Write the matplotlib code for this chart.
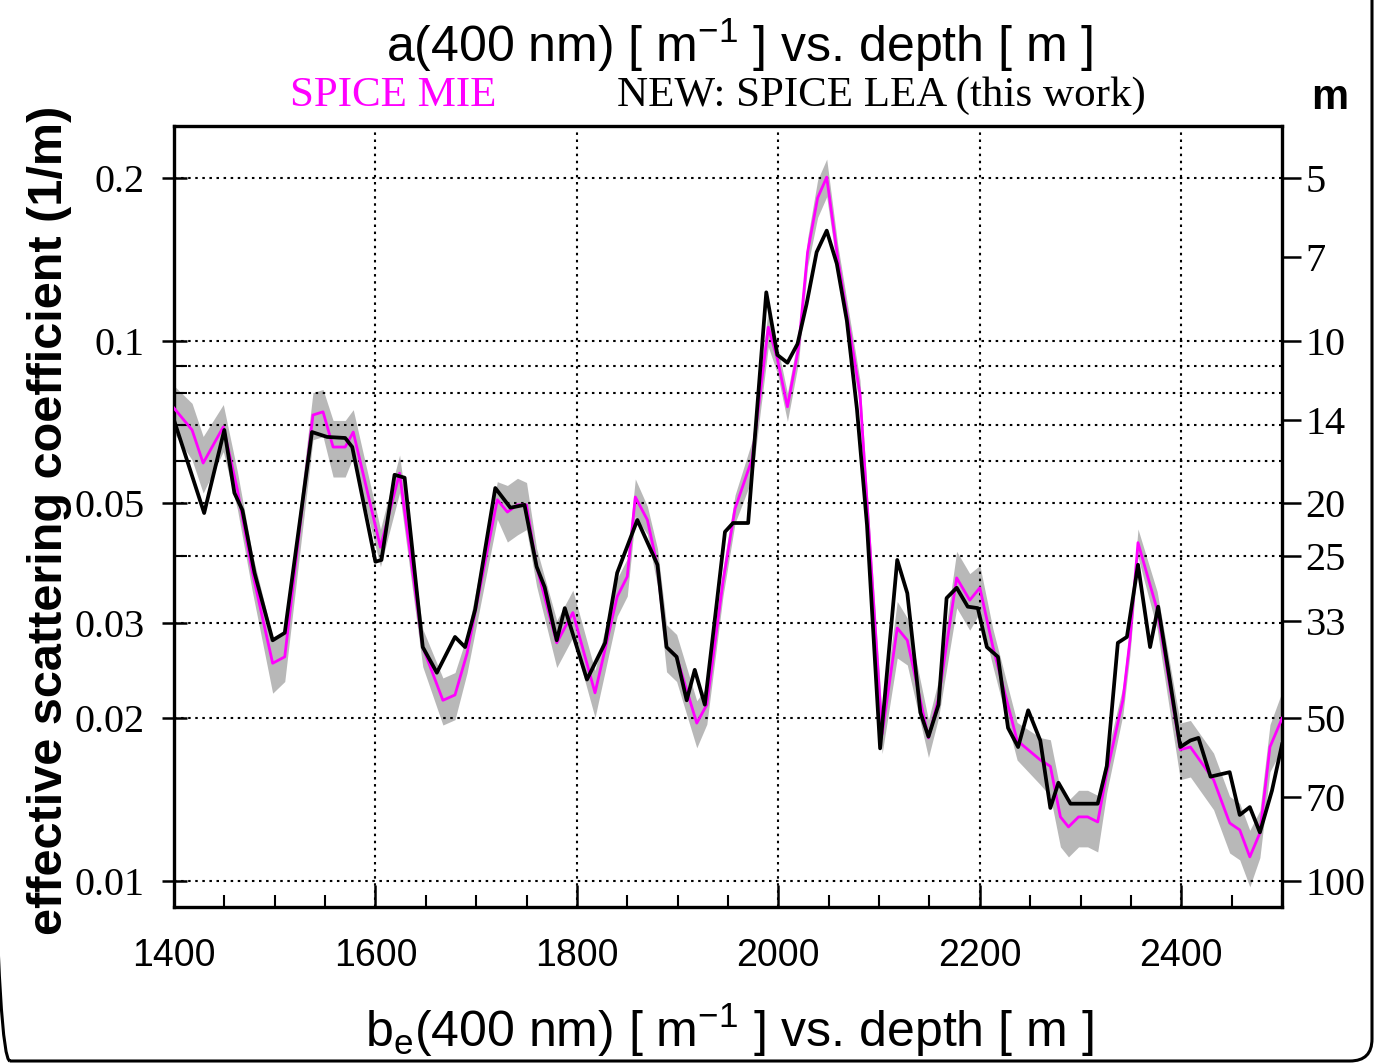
import matplotlib
matplotlib.use("Agg")
import matplotlib.pyplot as plt
import numpy as np
from matplotlib.ticker import FixedLocator, MultipleLocator, NullLocator, NullFormatter
from matplotlib.patches import FancyBboxPatch

# NEW: SPICE LEA (black line)
lea_depth = [1400, 1430, 1450, 1460, 1468, 1480, 1498, 1510, 1537, 1552,
             1570, 1577, 1600, 1606, 1619, 1629, 1647, 1661, 1679, 1689,
             1699, 1719, 1734, 1748, 1760, 1768, 1780, 1788, 1810, 1828,
             1840, 1860, 1880, 1889, 1899, 1909, 1917, 1927, 1939, 1947,
             1955, 1970, 1988, 1999, 2009, 2019, 2028, 2038, 2048, 2058,
             2068, 2078, 2088, 2101, 2118, 2128, 2141, 2149, 2159, 2167,
             2177, 2188, 2198, 2207, 2218, 2228, 2238, 2248, 2260, 2270,
             2278, 2290, 2317, 2326, 2337, 2346, 2357, 2369, 2377, 2389,
             2399, 2409, 2417, 2429, 2448, 2458, 2468, 2478, 2490, 2500]
lea_val = [0.0714, 0.0480, 0.0684, 0.0523, 0.0486, 0.0372, 0.0279, 0.0288, 0.0678, 0.0664,
           0.0661, 0.0636, 0.0390, 0.0393, 0.0565, 0.0558, 0.0271, 0.0243, 0.0283, 0.0271,
           0.0318, 0.0534, 0.0491, 0.0497, 0.0382, 0.0350, 0.0279, 0.0320, 0.0236, 0.0276,
           0.0372, 0.0466, 0.0385, 0.0271, 0.0260, 0.0216, 0.0246, 0.0212, 0.0329, 0.0443,
           0.0460, 0.0460, 0.123, 0.0942, 0.0911, 0.0987, 0.117, 0.146, 0.160, 0.139,
           0.109, 0.0748, 0.0456, 0.0176, 0.0393, 0.0341, 0.0205, 0.0185, 0.0212, 0.0334,
           0.0349, 0.0322, 0.0320, 0.0271, 0.0260, 0.0192, 0.0177, 0.0207, 0.0182, 0.01365,
           0.0152, 0.0139, 0.0139, 0.0163, 0.0276, 0.0283, 0.0385, 0.0271, 0.0322, 0.0233,
           0.0177, 0.0182, 0.0184, 0.0156, 0.0159, 0.01325, 0.0137, 0.0123, 0.0147, 0.0179]

# SPICE MIE (magenta line) and relative width of the grey band
mie_depth = [1400, 1418, 1429, 1449, 1463, 1478, 1498, 1510, 1538, 1548,
             1558, 1570, 1578, 1605, 1624, 1647, 1667, 1679, 1691, 1721,
             1731, 1741, 1750, 1760, 1780, 1796, 1818, 1840, 1850, 1858,
             1870, 1880, 1889, 1899, 1919, 1929, 1945, 1957, 1974, 1990,
             1999, 2009, 2020, 2029, 2039, 2048, 2059, 2081, 2088, 2103,
             2118, 2128, 2149, 2159, 2177, 2190, 2200, 2213, 2237, 2260,
             2270, 2280, 2288, 2298, 2307, 2317, 2326, 2342, 2349, 2357,
             2376, 2399, 2409, 2432, 2448, 2458, 2468, 2478, 2488, 2500]
mie_val = [0.0751, 0.0684, 0.0594, 0.0693, 0.0530, 0.0372, 0.0253, 0.0260, 0.0729, 0.0739,
           0.0636, 0.0636, 0.0678, 0.0415, 0.0569, 0.0271, 0.0216, 0.0221, 0.0264, 0.0508,
           0.0482, 0.0497, 0.0497, 0.0382, 0.0276, 0.0314, 0.0223, 0.0336, 0.0366, 0.0514,
           0.0466, 0.0382, 0.0271, 0.0260, 0.0196, 0.0212, 0.0358, 0.0489, 0.0605, 0.106,
           0.0926, 0.0755, 0.0970, 0.146, 0.184, 0.201, 0.142, 0.0798, 0.0503, 0.0187,
           0.0294, 0.0279, 0.0184, 0.0218, 0.0364, 0.0331, 0.0349, 0.0271, 0.0182, 0.01675,
           0.0163, 0.01314, 0.01259, 0.01314, 0.01314, 0.01286, 0.01585, 0.0216, 0.0279, 0.0423,
           0.0318, 0.0175, 0.0177, 0.0154, 0.0128, 0.01243, 0.01108, 0.01227, 0.0177, 0.0200]
mie_err = [0.10, 0.12, 0.12, 0.10, 0.08, 0.08, 0.12, 0.10, 0.10, 0.10,
           0.12, 0.12, 0.10, 0.08, 0.08, 0.08, 0.10, 0.10, 0.08, 0.08,
           0.12, 0.12, 0.10, 0.08, 0.10, 0.10, 0.10, 0.08, 0.08, 0.08,
           0.06, 0.08, 0.10, 0.10, 0.10, 0.08, 0.06, 0.06, 0.08, 0.08,
           0.06, 0.06, 0.06, 0.06, 0.08, 0.08, 0.06, 0.06, 0.06, 0.08,
           0.12, 0.10, 0.08, 0.08, 0.12, 0.12, 0.10, 0.08, 0.08, 0.10,
           0.12, 0.12, 0.12, 0.12, 0.12, 0.12, 0.08, 0.06, 0.06, 0.06,
           0.08, 0.12, 0.12, 0.12, 0.12, 0.12, 0.12, 0.10, 0.10, 0.12]

# axis ticks
left_ticks = [0.01, 0.02, 0.03, 0.05, 0.1, 0.2]
left_labels = ['0.01', '0.02', '0.03', '0.05', '0.1', '0.2']
left_minor = [0.04, 0.06, 0.07, 0.08, 0.09]
right_m = [5, 7, 10, 14, 20, 25, 33, 50, 70, 100]
x_ticks = [1400, 1600, 1800, 2000, 2200, 2400]

sans = 'Liberation Sans'
serif = 'Liberation Serif'

fig = plt.figure(figsize=(13.75, 10.64), dpi=100)
ax = fig.add_axes([0.1265, 0.1476, 0.8059, 0.734])

lo = np.array(mie_val) * (1 - np.array(mie_err))
hi = np.array(mie_val) * (1 + np.array(mie_err))
ax.fill_between(mie_depth, lo, hi, color='#b8b8b8', lw=0, zorder=1)
ax.plot(mie_depth, mie_val, color='#ff00ff', lw=2.0, zorder=3)
ax.plot(lea_depth, lea_val, color='black', lw=2.7, zorder=4)

ax.set_yscale('log')
ax.set_xlim(1400, 2500)
ax.set_ylim(0.00895, 0.25)

ax.yaxis.set_major_locator(FixedLocator(left_ticks))
ax.set_yticklabels(left_labels, fontfamily=serif, fontsize=29)
ax.yaxis.set_minor_locator(FixedLocator(left_minor))
ax.yaxis.set_minor_formatter(NullFormatter())
ax.xaxis.set_major_locator(FixedLocator(x_ticks))
ax.set_xticklabels([str(t) for t in x_ticks], fontfamily=sans, fontsize=27)
ax.xaxis.set_minor_locator(MultipleLocator(50))

ax.tick_params(axis='y', which='major', direction='inout', length=18, width=1.8, pad=12, right=False)
ax.tick_params(axis='y', which='minor', direction='in', length=9, width=1.5, right=False)
ax.tick_params(axis='x', which='major', direction='in', length=16, width=1.8, pad=22, top=False)
ax.tick_params(axis='x', which='minor', direction='in', length=9, width=1.5, top=False)

ax.yaxis.grid(True, which='both', color='black', linestyle=(0, (1.2, 2.2)), lw=1.5)
ax.xaxis.grid(True, which='major', color='black', linestyle=(0, (1.2, 2.2)), lw=1.5)

for s in ax.spines.values():
    s.set_linewidth(2.4)

ax2 = ax.twinx()
ax2.set_yscale('log')
ax2.set_ylim(ax.get_ylim())
ax2.yaxis.set_major_locator(FixedLocator([1.0 / m for m in right_m]))
ax2.set_yticklabels([str(m) for m in right_m], fontfamily=serif, fontsize=29)
ax2.yaxis.set_minor_locator(NullLocator())
ax2.tick_params(axis='y', direction='out', length=14, width=1.8, pad=3)
for s in ax2.spines.values():
    s.set_visible(False)

# texts
fig.text(0.538, 0.957, r'a(400 nm) [ m$^{\mathregular{-1}}$ ] vs. depth [ m ]',
         ha='center', va='center', fontfamily=sans, fontsize=36)
fig.text(0.211, 0.910, 'SPICE MIE', ha='left', va='center',
         fontfamily=serif, fontsize=31, color='#ff00ff')
fig.text(0.449, 0.910, 'NEW: SPICE LEA (this work)', ha='left', va='center',
         fontfamily=serif, fontsize=31, color='black')
fig.text(0.967, 0.908, 'm', ha='center', va='center',
         fontfamily=sans, fontsize=30, fontweight='bold')
fig.text(0.036, 0.511, 'effective scattering coefficient (1/m)', rotation=90,
         ha='center', va='center', fontfamily=sans, fontsize=35, fontweight='bold')
fig.text(0.530, 0.032, r'b$_{\mathregular{e}}$(400 nm) [ m$^{\mathregular{-1}}$ ] vs. depth [ m ]',
         ha='center', va='center', fontfamily=sans, fontsize=36)

# rounded frame around the figure, in inches so the corners stay round;
# its left and top edges fall outside the canvas
frame = FancyBboxPatch((-0.12, 0.03), 13.84, 11.0,
                       boxstyle='round,pad=0,rounding_size=0.22',
                       transform=fig.dpi_scale_trans, fill=False,
                       edgecolor='black', lw=2.2)
fig.patches.append(frame)

fig.savefig('out.png', dpi=100)
